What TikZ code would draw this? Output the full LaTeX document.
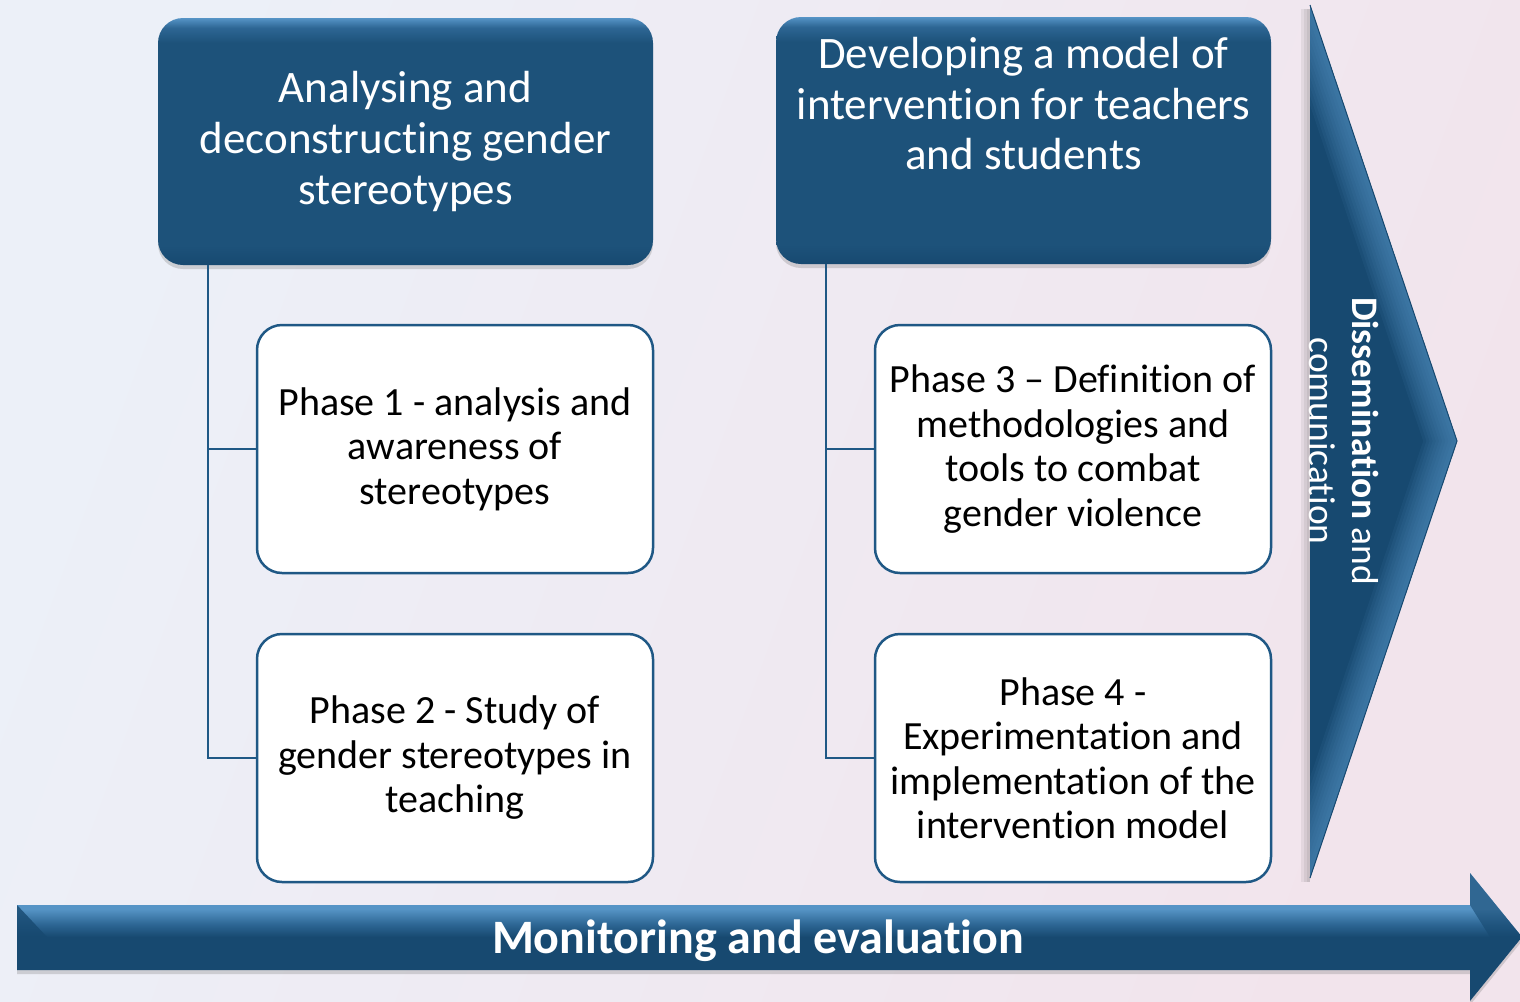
\documentclass[tikz,border=0pt]{standalone}
\usepackage{fontspec}
\setmainfont{Carlito}[Ligatures={TeX,NoCommon}]
\usetikzlibrary{shadows}

\definecolor{boxblue}{RGB}{29,82,122}
\definecolor{boxdark}{RGB}{23,73,112}
\definecolor{boxmid}{RGB}{45,102,148}
\definecolor{boxlight}{RGB}{86,148,198}
\definecolor{linkblue}{RGB}{31,88,133}
\definecolor{bgleft}{RGB}{236,240,248}
\definecolor{bgright}{RGB}{242,228,236}

%% shadings for the blue shapes
\pgfdeclareverticalshading{bevel}{100bp}{color(0bp)=(boxdark); color(25bp)=(boxdark); color(29bp)=(boxblue); color(70bp)=(boxblue); color(73bp)=(boxmid); color(75bp)=(boxlight); color(100bp)=(boxlight)}
\pgfdeclareverticalshading{tube}{100bp}{color(0bp)=(boxdark); color(50bp)=(boxdark); color(55bp)=(boxmid); color(61bp)=(boxlight); color(100bp)=(boxlight)}

\tikzset{
    headbox/.style={rounded corners=25pt, minimum width=495pt, minimum height=247pt,
        shading=bevel, drop shadow={shadow xshift=0pt, shadow yshift=-4pt, opacity=.3}},
    headtext/.style={text=white, align=center, font=\fontsize{45}{50.5}\selectfont},
    phasebox/.style={draw=linkblue, line width=2.5pt, fill=white, rounded corners=25pt,
        minimum width=396pt, minimum height=248pt, align=center,
        font=\fontsize{40}{44.5}\selectfont},
    link/.style={draw=linkblue, line width=2.5pt}
}

\begin{document}
\begin{tikzpicture}[x=1pt,y=-1pt]
        \useasboundingbox (0,0) rectangle (1520,1001);
        %% Background
        \shade[left color=bgleft, right color=bgright, shading angle=70] (0,0) rectangle (1520,1001);
        %% Dissemination arrow
        \foreach \s in {3,6,9}{
            \fill[black, opacity=.06] (1310-\s,9) rectangle (1310,882);
        }
        \begin{scope}
            \clip (1310,5) -- (1457,441) -- (1310,878) -- cycle;
            \fill[boxdark] (1300,0) rectangle (1460,880);
            \foreach \w in {64,58,...,4}{
                \draw[boxlight, line width=\w pt, opacity=.09] (1310,5) -- (1457,441) -- (1310,878);
            }
        \end{scope}
        \draw[boxdark, line width=1pt] (1310,5) -- (1457,441) -- (1310,878);
        \node[text=white, rotate=-90, align=center, font=\fontsize{37.5}{43}\selectfont]
            (dissem) at (1344,441) {\textbf{Dissemination} and\\comunication};
        %% Monitoring arrow
        \shade[shading=tube, drop shadow={shadow xshift=0pt, shadow yshift=-4pt, opacity=.3}]
            (17,905) -- (1470,905) -- (1470,873) -- (1522,937) -- (1470,1001)
            -- (1470,970) -- (17,970) -- cycle;
        \fill[boxdark, opacity=.8] (17,905) -- (47,937) -- (17,970) -- cycle;
        \fill[boxdark, opacity=.6] (1470,873) -- (1522,937) -- (1490,937) -- (1470,905) -- cycle;
        \node[text=white, font=\fontsize{48}{52}\selectfont\bfseries] (monitor) at (758,941)
            {Monitoring and evaluation};
        %% Header boxes
        \node[headbox, headtext] (analyse) at (405.5,141.5)
            {Analysing and\\deconstructing gender\\stereotypes};
        \node[headbox] (model) at (1023.5,140.5) {};
        \node[headtext] (model-text) at (1023.5,104)
            {Developing a model of\\intervention for teachers\\and students};
        %% Phase boxes
        \node[phasebox] (phase1) at (455,449) {Phase 1 - analysis and\\awareness of\\stereotypes};
        \node[phasebox] (phase2) at (455,758) {Phase 2 - Study of\\gender stereotypes in\\teaching};
        \node[phasebox] (phase3) at (1073,449)
            {Phase 3 -- Definition of\\methodologies and\\tools to combat\\gender violence};
        \node[phasebox] (phase4) at (1073,758)
            {Phase 4 -\\Experimentation and\\implementation of the\\intervention model};
        %% Links
        \foreach \head/\top/\bottom in {analyse/phase1/phase2, model/phase3/phase4}{
            \draw[link] ([xshift=50pt]\head.south west) |- (\top.west);
            \draw[link] ([xshift=50pt]\head.south west) |- (\bottom.west);
        }
    \end{tikzpicture}
\end{document}
